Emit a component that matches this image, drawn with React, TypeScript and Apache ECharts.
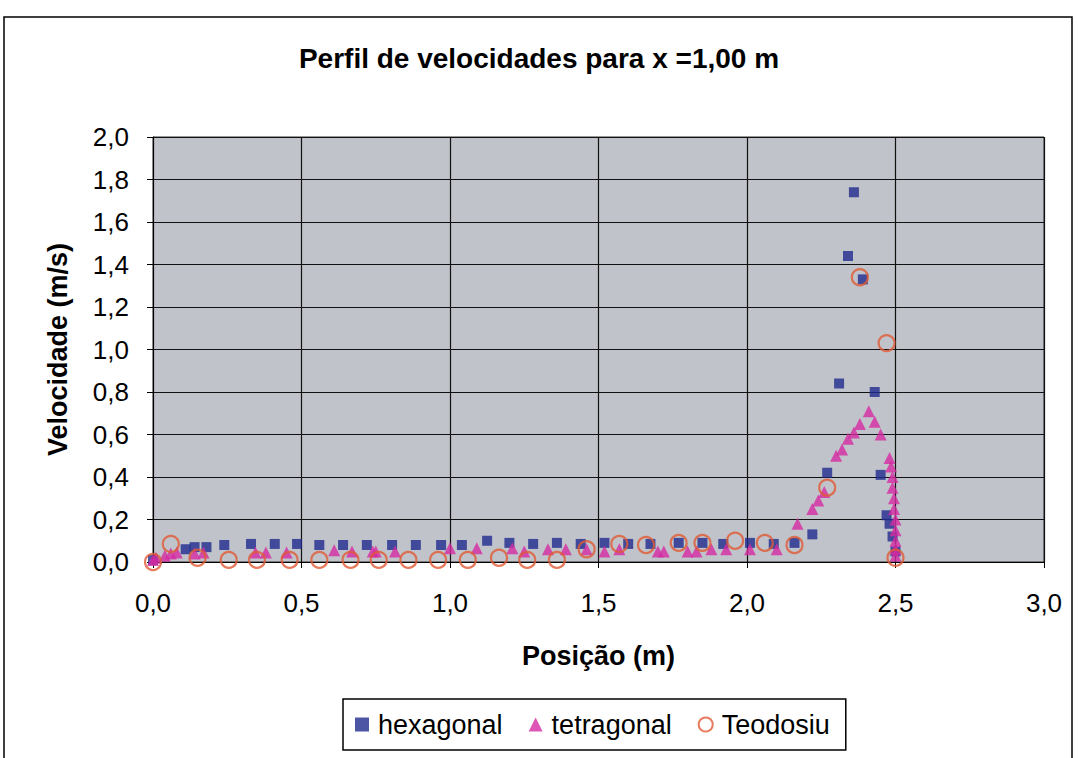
import React, { useEffect, useRef } from "react";
import * as echarts from "echarts";

const titleText = "Perfil de velocidades para x =1,00 m";
const xAxisName = "Posição (m)";
const yAxisName = "Velocidade (m/s)";
const seriesNames = ["hexagonal", "tetragonal", "Teodosiu"];

const hexagonal: [number, number][] = [
  [0.0, 0.01], [0.11, 0.06], [0.14, 0.07], [0.18, 0.07], [0.24, 0.08], [0.33, 0.085],
  [0.41, 0.085], [0.485, 0.085], [0.56, 0.08], [0.64, 0.08], [0.72, 0.08], [0.805, 0.08],
  [0.885, 0.08], [0.97, 0.08], [1.04, 0.08], [1.125, 0.1], [1.2, 0.09], [1.28, 0.085],
  [1.36, 0.09], [1.44, 0.085], [1.52, 0.09], [1.6, 0.085], [1.675, 0.085], [1.77, 0.09],
  [1.85, 0.09], [1.92, 0.085], [2.01, 0.09], [2.09, 0.085], [2.16, 0.09], [2.22, 0.13],
  [2.27, 0.42], [2.31, 0.84], [2.34, 1.44], [2.36, 1.74], [2.39, 1.33], [2.43, 0.8],
  [2.45, 0.41], [2.47, 0.22], [2.48, 0.18], [2.49, 0.12], [2.5, 0.05],
];

const tetragonal: [number, number][] = [
  [0.0, 0.01], [0.01, 0.02], [0.04, 0.03], [0.06, 0.04], [0.08, 0.045], [0.14, 0.04],
  [0.17, 0.045], [0.345, 0.045], [0.38, 0.045], [0.45, 0.045], [0.61, 0.055], [0.67, 0.05],
  [0.74, 0.05], [0.75, 0.05], [0.815, 0.05], [1.0, 0.065], [1.09, 0.065], [1.21, 0.065],
  [1.25, 0.05], [1.33, 0.06], [1.39, 0.06], [1.46, 0.06], [1.52, 0.05], [1.57, 0.06],
  [1.7, 0.05], [1.72, 0.05], [1.8, 0.05], [1.83, 0.05], [1.88, 0.06], [1.93, 0.06],
  [2.01, 0.06], [2.1, 0.06], [2.17, 0.18], [2.22, 0.25], [2.24, 0.29], [2.26, 0.33],
  [2.3, 0.5], [2.32, 0.53], [2.34, 0.58], [2.36, 0.61], [2.38, 0.65], [2.41, 0.71],
  [2.43, 0.66], [2.45, 0.6], [2.48, 0.49], [2.485, 0.45], [2.49, 0.4], [2.49, 0.35],
  [2.495, 0.3], [2.495, 0.25], [2.5, 0.2], [2.5, 0.15], [2.5, 0.1], [2.5, 0.06], [2.5, 0.03],
];

const teodosiu: [number, number][] = [
  [0.0, 0.0], [0.06, 0.085], [0.15, 0.02], [0.255, 0.01], [0.35, 0.01], [0.46, 0.01],
  [0.56, 0.01], [0.665, 0.01], [0.76, 0.01], [0.86, 0.01], [0.96, 0.01], [1.06, 0.01],
  [1.165, 0.02], [1.26, 0.01], [1.36, 0.01], [1.46, 0.06], [1.57, 0.085], [1.66, 0.08],
  [1.77, 0.09], [1.85, 0.09], [1.96, 0.1], [2.06, 0.09], [2.16, 0.08], [2.27, 0.35],
  [2.38, 1.34], [2.47, 1.03], [2.5, 0.02],
];

const fmt = (v: number) => v.toFixed(1).replace(".", ",");

export default function App() {
  const ref = useRef<HTMLDivElement>(null);
  useEffect(() => {
    if (!ref.current) return;
    const chart = echarts.init(ref.current, null, { renderer: "svg" });
    const font = "Liberation Sans, Arial, sans-serif";
    chart.setOption({
      animation: false,
      backgroundColor: "#ffffff",
      textStyle: { fontFamily: font },
      title: {
        text: titleText,
        left: "center",
        top: 39,
        textStyle: { fontSize: 28, fontWeight: "bold", color: "#000", fontFamily: font },
      },
      graphic: [
        {
          type: "rect",
          shape: { x: 4, y: 17, width: 1068, height: 760 },
          style: { fill: "none", stroke: "#000", lineWidth: 1.5 },
          silent: true,
        },
      ],
      grid: {
        left: 153,
        top: 137,
        right: 34,
        bottom: 196,
        show: true,
        backgroundColor: "#c0c3c9",
        borderColor: "#333",
        borderWidth: 1,
      },
      legend: {
        left: 343,
        top: 699,
        orient: "horizontal",
        data: seriesNames,
        backgroundColor: "#fff",
        borderColor: "#000",
        borderWidth: 1.5,
        padding: [12, 16, 12, 12],
        itemGap: 26,
        itemWidth: 14,
        itemHeight: 14,
        textStyle: { fontSize: 27, color: "#000", fontFamily: font, padding: [0, 0, 0, 4] },
      },
      xAxis: {
        type: "value",
        min: 0,
        max: 3,
        interval: 0.5,
        name: xAxisName,
        nameLocation: "middle",
        nameGap: 80,
        nameTextStyle: { fontSize: 27, fontWeight: "bold", color: "#000" },
        axisLine: { show: true, onZero: false, lineStyle: { color: "#000", width: 1 } },
        axisTick: { show: true, inside: false, length: 6, lineStyle: { color: "#000" } },
        axisLabel: { fontSize: 26, color: "#000", margin: 28, formatter: fmt },
        splitLine: { show: true, lineStyle: { color: "#111", width: 1.2 } },
      },
      yAxis: {
        type: "value",
        min: 0,
        max: 2,
        interval: 0.2,
        name: yAxisName,
        nameLocation: "middle",
        nameGap: 82,
        nameTextStyle: { fontSize: 27, fontWeight: "bold", color: "#000" },
        axisLine: { show: true, onZero: false, lineStyle: { color: "#000", width: 1 } },
        axisTick: { show: true, inside: false, length: 6, lineStyle: { color: "#000" } },
        axisLabel: { fontSize: 26, color: "#000", margin: 24, formatter: fmt },
        splitLine: { show: true, lineStyle: { color: "#111", width: 1.2 } },
      },
      series: [
        {
          name: seriesNames[0],
          type: "scatter",
          data: hexagonal,
          symbol: "rect",
          symbolSize: 10,
          itemStyle: { color: "#202c8e" },
        },
        {
          name: seriesNames[1],
          type: "scatter",
          data: tetragonal,
          symbol: "triangle",
          symbolSize: 12,
          itemStyle: { color: "#d42ba2" },
        },
        {
          name: seriesNames[2],
          type: "scatter",
          data: teodosiu,
          symbol: "circle",
          symbolSize: 16,
          itemStyle: { color: "rgba(0,0,0,0)", borderColor: "#e05a34", borderWidth: 2.2 },
        },
      ],
    });
    return () => chart.dispose();
  }, []);
  return (
    <div
      ref={ref}
      style={{ position: "fixed", left: 0, top: 0, width: 1078, height: 758 }}
    />
  );
}
